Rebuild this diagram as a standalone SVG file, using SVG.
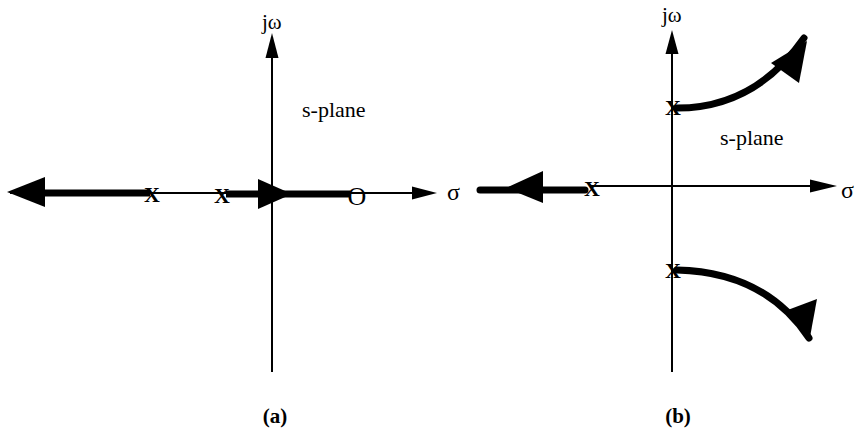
<svg xmlns="http://www.w3.org/2000/svg" width="856" height="433" viewBox="0 0 856 433" font-family="'Liberation Serif', 'DejaVu Serif', serif">
<style>
.ax{stroke:#000;stroke-width:2;fill:none}
.thick{stroke:#000;stroke-width:7;fill:none}
.rnd{stroke-linecap:round}
.head{fill:#000;stroke:none}
text{font-family:'Liberation Serif', 'DejaVu Serif', serif;fill:#000}
.x{font-weight:bold;font-size:22px;text-anchor:middle}
.lbl{font-weight:bold;font-size:21px;text-anchor:middle}
</style>
<rect width="856" height="433" fill="#fff"/>
<g id="connectors">
  <line class="ax" x1="272" y1="55" x2="272" y2="372"/>
  <polygon class="head" points="272,33 265.5,58 278.5,58"/>
  <line class="ax" x1="10" y1="193" x2="415" y2="193"/>
  <polygon class="head" points="437,193 412,186.5 412,199.5"/>
  <line class="thick" x1="43" y1="193" x2="150" y2="193"/>
  <polygon class="head" points="7,192 45,177 45,207"/>
  <line class="thick" x1="226" y1="194" x2="350" y2="194"/>
  <polygon class="head" points="292,194 258,179 258,209"/>
  <line class="ax" x1="672" y1="50" x2="672" y2="372"/>
  <polygon class="head" points="672,30 665.5,54 678.5,54"/>
  <line class="ax" x1="590" y1="186" x2="815" y2="186"/>
  <polygon class="head" points="837,186 810,179.5 810,192.5"/>
  <line class="thick rnd" x1="585" y1="190" x2="480" y2="190"/>
  <polygon class="head" points="506,188 543,171 543,203"/>
  <path class="thick rnd" d="M677,108 Q755,108 804,38"/>
  <polygon class="head" points="807,41 771,63 799,83"/>
  <path class="thick rnd" d="M677,270 Q765,272 809,338"/>
  <polygon class="head" points="810,337 785,311 817,299"/>
</g>
<g id="panel-a">
  <text x="262" y="29" font-size="21">jω</text>
  <text x="302" y="117" font-size="22">s-plane</text>
  <text class="x" x="152" y="202">X</text>
  <text class="x" x="222" y="203">X</text>
  <text x="357" y="205" font-size="26" text-anchor="middle">O</text>
  <text x="447" y="200" font-size="24">σ</text>
  <text class="lbl" x="275" y="423">(a)</text>
</g>
<g id="panel-b">
  <text x="662" y="22" font-size="21">jω</text>
  <text x="720" y="145" font-size="22">s-plane</text>
  <text class="x" x="592" y="196">X</text>
  <text class="x" x="673" y="115">X</text>
  <text class="x" x="673" y="278">X</text>
  <text x="841" y="198" font-size="24">σ</text>
  <text class="lbl" x="678" y="423">(b)</text>
</g>
</svg>
